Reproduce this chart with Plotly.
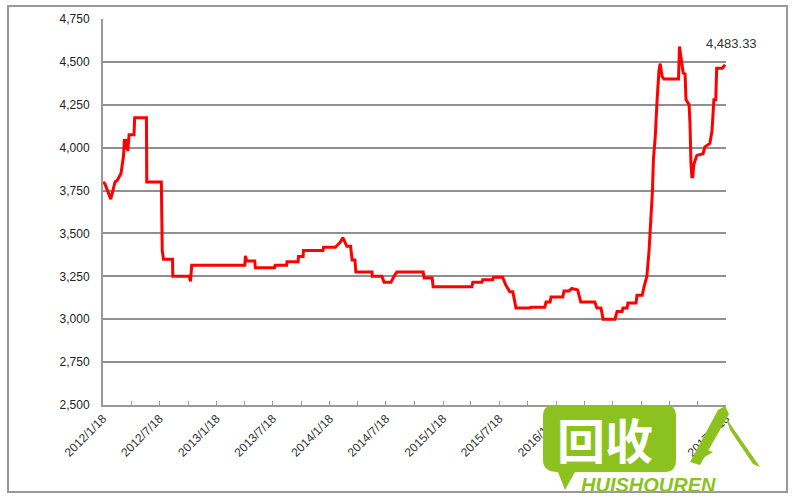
import plotly.graph_objects as go

# ---- data ----
dates = [
    "2012-01-18", "2012-01-24", "2012-02-12", "2012-02-26", "2012-03-04", "2012-03-16",
    "2012-03-24", "2012-03-27", "2012-04-01", "2012-04-04", "2012-04-07", "2012-04-11",
    "2012-04-27", "2012-04-29", "2012-06-06", "2012-06-07", "2012-07-24", "2012-07-27",
    "2012-07-31", "2012-08-29", "2012-08-30", "2012-10-22", "2012-10-26", "2012-10-30",
    "2013-04-19", "2013-04-21", "2013-04-25", "2013-05-21", "2013-05-23", "2013-07-24",
    "2013-07-26", "2013-09-01", "2013-09-02", "2013-10-08", "2013-10-09", "2013-10-24",
    "2013-10-25", "2013-12-27", "2013-12-29", "2014-02-05", "2014-02-21", "2014-03-01",
    "2014-03-14", "2014-03-26", "2014-03-31", "2014-04-09", "2014-04-12", "2014-06-03",
    "2014-06-04", "2014-07-05", "2014-07-12", "2014-08-03", "2014-08-13", "2014-08-22",
    "2014-11-15", "2014-11-18", "2014-12-14", "2014-12-17", "2015-04-21", "2015-04-24",
    "2015-05-23", "2015-05-26", "2015-06-27", "2015-06-30", "2015-07-29", "2015-08-08",
    "2015-08-21", "2015-08-31", "2015-09-10", "2015-10-25", "2015-10-28", "2015-12-12",
    "2015-12-16", "2015-12-29", "2016-01-01", "2016-02-08", "2016-02-12", "2016-02-28",
    "2016-03-08", "2016-03-27", "2016-04-06", "2016-05-21", "2016-05-28", "2016-06-10",
    "2016-06-17", "2016-07-25", "2016-08-01", "2016-08-17", "2016-08-20", "2016-09-02",
    "2016-09-05", "2016-10-01", "2016-10-04", "2016-10-21", "2016-10-27", "2016-11-05",
    "2016-11-12", "2016-11-16", "2016-11-23", "2016-11-26", "2016-12-02", "2016-12-08",
    "2016-12-14", "2016-12-18", "2016-12-24", "2016-12-30", "2017-02-15", "2017-02-18",
    "2017-02-24", "2017-03-02", "2017-03-08", "2017-03-11", "2017-03-21", "2017-03-24",
    "2017-03-27", "2017-03-30", "2017-04-02", "2017-04-05", "2017-04-15", "2017-05-05",
    "2017-05-11", "2017-05-27", "2017-06-03", "2017-06-09", "2017-06-15", "2017-06-18",
    "2017-07-06", "2017-07-15",
]
prices = [
    3800, 3790, 3700, 3800, 3810, 3850,
    3950, 4050, 3990, 4050, 3980, 4075,
    4075, 4175, 4175, 3800, 3800, 3400,
    3350, 3350, 3250, 3250, 3220, 3315,
    3315, 3370, 3340, 3340, 3300, 3300,
    3315, 3315, 3335, 3335, 3365, 3365,
    3400, 3400, 3420, 3420, 3450, 3475,
    3425, 3425, 3345, 3345, 3275, 3275,
    3250, 3250, 3215, 3215, 3250, 3275,
    3275, 3240, 3240, 3190, 3190, 3215,
    3215, 3230, 3230, 3245, 3245, 3200,
    3160, 3160, 3065, 3065, 3070, 3070,
    3100, 3100, 3130, 3130, 3165, 3165,
    3180, 3170, 3100, 3100, 3065, 3065,
    3000, 3000, 3045, 3045, 3065, 3065,
    3095, 3095, 3140, 3140, 3190, 3250,
    3400, 3520, 3750, 3930, 4065, 4280,
    4450, 4490, 4415, 4400, 4400, 4590,
    4510, 4435, 4430, 4280, 4250, 4140,
    3910, 3830, 3830, 3900, 3955, 3965,
    4005, 4025, 4100, 4280, 4280, 4463,
    4463, 4483.33,
]
last_label = "4,483.33"

y_ticks = [2500, 2750, 3000, 3250, 3500, 3750, 4000, 4250, 4500, 4750]
y_tick_text = ["2,500", "2,750", "3,000", "3,250", "3,500", "3,750", "4,000", "4,250", "4,500", "4,750"]
x_ticks = ["2012-01-18", "2012-07-18", "2013-01-18", "2013-07-18", "2014-01-18", "2014-07-18",
           "2015-01-18", "2015-07-18", "2016-01-18", "2016-07-18", "2017-01-18", "2017-07-18"]
x_tick_text = ["2012/1/18", "2012/7/18", "2013/1/18", "2013/7/18", "2014/1/18", "2014/7/18",
               "2015/1/18", "2015/7/18", "2016/1/18", "2016/7/18", "2017/1/18", "2017/7/18"]
x_minor_ticks = ["2012-04-18", "2012-10-18", "2013-04-18", "2013-10-18", "2014-04-18", "2014-10-18",
                 "2015-04-18", "2015-10-18", "2016-04-18", "2016-10-18", "2017-04-18"]

# ---- geometry helpers for decorations (pixel -> paper) ----
W, H = 800, 500
L, R, T, B = 103, 726, 19, 405


def px(x):
    return (x - L) / (R - L)


def py(y):
    return (B - y) / (B - T)


fig = go.Figure()
fig.add_trace(go.Scatter(
    x=dates, y=prices, mode="lines",
    line=dict(color="#ff0000", width=3),
    hoverinfo="x+y", showlegend=False,
))

fig.add_annotation(
    x=dates[-1], y=prices[-1], text=last_label, showarrow=False,
    xanchor="center", yanchor="bottom", yshift=12, xshift=6,
    font=dict(family="Liberation Sans, Arial", size=13, color="#333333"),
)

GREEN = "#8cc21f"
shapes = [
    # outer frame
    dict(type="rect", xref="paper", yref="paper", x0=px(8), x1=px(787), y0=py(492), y1=py(6),
         line=dict(color="#999999", width=2), fillcolor="rgba(0,0,0,0)", layer="below"),
    # watermark speech bubble
    dict(type="path", xref="paper", yref="paper", layer="above", fillcolor=GREEN, line=dict(width=0),
         path=(f"M {px(555)},{py(405)} L {px(665)},{py(405)} Q {px(676)},{py(405)} {px(676)},{py(416)} "
               f"L {px(676)},{py(460)} Q {px(676)},{py(472)} {px(665)},{py(472)} "
               f"L {px(575)},{py(472)} L {px(565)},{py(490)} L {px(558)},{py(472)} "
               f"Q {px(543)},{py(472)} {px(543)},{py(460)} L {px(543)},{py(416)} "
               f"Q {px(543)},{py(405)} {px(555)},{py(405)} Z")),
    # watermark check stroke
    dict(type="path", xref="paper", yref="paper", layer="above", fillcolor=GREEN, line=dict(width=0),
         path=(f"M {px(690)},{py(462)} L {px(718)},{py(410)} L {px(725)},{py(406)} L {px(729)},{py(414)} "
               f"L {px(700)},{py(465)} Z")),
    dict(type="path", xref="paper", yref="paper", layer="above", fillcolor=GREEN, line=dict(width=0),
         path=(f"M {px(726)},{py(418)} L {px(760)},{py(467)} L {px(753)},{py(464)} L {px(730)},{py(430)} Z")),
    dict(type="path", xref="paper", yref="paper", layer="above", fillcolor=GREEN, line=dict(width=0),
         path=(f"M {px(700)},{py(447)} L {px(713)},{py(452)} L {px(703)},{py(458)} Z")),
]

fig.add_annotation(
    xref="paper", yref="paper", x=px(605), y=py(438), text="<b>回收</b>", showarrow=False,
    xanchor="center", yanchor="middle",
    font=dict(family="Noto Sans CJK SC", size=48, color="white"),
)
fig.add_annotation(
    xref="paper", yref="paper", x=px(648), y=py(485), text="<b><i>HUISHOUREN</i></b>", showarrow=False,
    xanchor="center", yanchor="middle",
    font=dict(family="Liberation Sans, Arial", size=20, color=GREEN),
)

fig.update_layout(
    width=W, height=H,
    margin=dict(l=L, r=W - R, t=T, b=H - B),
    paper_bgcolor="white", plot_bgcolor="white",
    shapes=shapes,
    font=dict(family="Liberation Sans, Arial", size=12, color="#222222"),
    xaxis=dict(
        type="date", range=["2012-01-18", "2017-07-18"],
        tickmode="array", tickvals=x_ticks, ticktext=x_tick_text, tickangle=-45,
        ticks="inside", ticklen=4, tickcolor="#999999", tickwidth=1,
        minor=dict(tickmode="array", tickvals=x_minor_ticks, ticks="inside", ticklen=4,
                   tickcolor="#999999", showgrid=False),
        showgrid=False, showline=True, linecolor="#999999", linewidth=2,
        tickfont=dict(family="Liberation Sans, Arial", size=12, color="#333333"),
        zeroline=False,
    ),
    yaxis=dict(
        range=[2500, 4750], tickmode="array", tickvals=y_ticks, ticktext=y_tick_text,
        showgrid=True, gridcolor="#8f8f8f", gridwidth=2,
        showline=True, linecolor="#999999", linewidth=2,
        ticks="", ticklabelstandoff=9,
        tickfont=dict(family="Liberation Sans, Arial", size=12, color="#222222"),
        zeroline=False,
    ),
)

fig.write_html("out.html", config={"displayModeBar": False},
               post_script="document.body.style.margin='0';")
